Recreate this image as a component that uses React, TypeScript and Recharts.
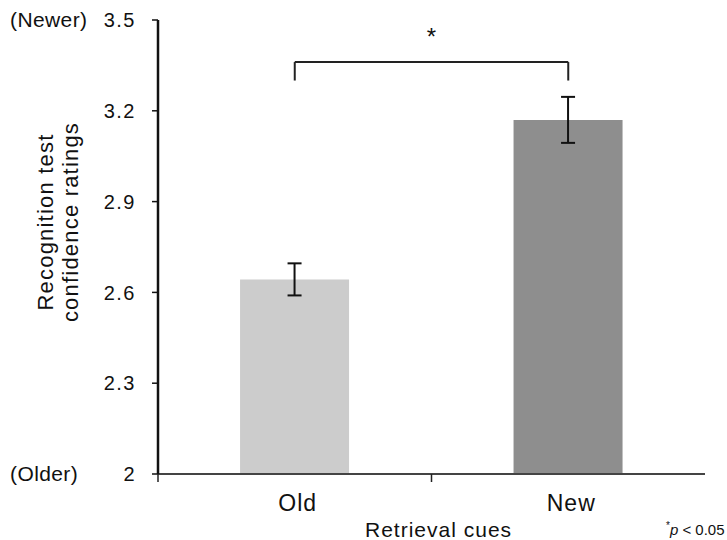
import { BarChart, Bar, Cell, ErrorBar, XAxis, YAxis, ReferenceLine } from "recharts";

const categories = ["Old", "New"];
const ratings = [2.643, 3.17];
const errors = [0.053, 0.076];
const barColors = ["#cccccc", "#8e8e8e"];
const yTicks = [2, 2.3, 2.6, 2.9, 3.2, 3.5];
const bracketTop = 3.361;
const bracketFoot = 3.3;

const data = categories.map((name, i) => ({ name, rating: ratings[i], err: errors[i] }));

const font = "'Liberation Sans', Arial, sans-serif";

// category label at the band centre, tick mark at the band's left edge
function XTick(props: any) {
  const { x, y, payload } = props;
  const half = payload.offset ?? 0;
  return (
    <g>
      <line x1={x - half} y1={y - 8} x2={x - half} y2={y} stroke="#222" strokeWidth={1.5} />
      <text x={x + 3} y={y + 29} textAnchor="middle" fontSize={23} letterSpacing={1} fill="#111" fontFamily={font}>
        {payload.value}
      </text>
    </g>
  );
}

export default function App() {
  return (
    <div style={{ position: "relative", width: 727, height: 540, background: "#fff", fontFamily: font }}>
      <style>{`body{margin:0}`}</style>
      <BarChart
        width={727}
        height={540}
        data={data}
        margin={{ top: 20, right: 22, bottom: 36, left: 98 }}
        barCategoryGap="30%"
      >
        <XAxis
          dataKey="name"
          interval={0}
          tick={<XTick />}
          tickLine={false}
          tickSize={8}
          tickMargin={0}
          axisLine={{ stroke: "#444", strokeWidth: 2 }}
          height={30}
        />
        <YAxis
          domain={[2, 3.5]}
          ticks={yTicks}
          interval={0}
          width={60}
          tickSize={6}
          tickMargin={16}
          tickFormatter={(v: number) => (v === 2 ? "2" : v.toFixed(1))}
          tick={{ fontSize: 20, fill: "#111", fontFamily: font, letterSpacing: 1.5 }}
          axisLine={{ stroke: "#111", strokeWidth: 2.5 }}
          tickLine={{ stroke: "#111", strokeWidth: 1.5 }}
        />
        <Bar dataKey="rating" isAnimationActive={false}>
          {data.map((d, i) => (
            <Cell key={d.name} fill={barColors[i]} />
          ))}
          <ErrorBar dataKey="err" width={7} stroke="#111" strokeWidth={2} />
        </Bar>
        <ReferenceLine
          segment={[{ x: categories[0], y: bracketTop }, { x: categories[1], y: bracketTop }]}
          stroke="#222"
          strokeWidth={2}
          label={{ value: "*", position: "top", offset: 17, fontSize: 24, fill: "#111" }}
        />
        <ReferenceLine
          segment={[{ x: categories[0], y: bracketTop }, { x: categories[0], y: bracketFoot }]}
          stroke="#222"
          strokeWidth={2}
        />
        <ReferenceLine
          segment={[{ x: categories[1], y: bracketTop }, { x: categories[1], y: bracketFoot }]}
          stroke="#222"
          strokeWidth={2}
        />
      </BarChart>
      <div style={{ position: "absolute", left: 10, top: 8, fontSize: 21, letterSpacing: 0.4, color: "#111" }}>(Newer)</div>
      <div style={{ position: "absolute", left: 10, top: 462, fontSize: 21, letterSpacing: 0.4, color: "#111" }}>(Older)</div>
      <div
        style={{
          position: "absolute",
          left: 58,
          top: 222,
          transform: "translate(-50%, -50%) rotate(-90deg)",
          fontSize: 22,
          letterSpacing: 1.2,
          lineHeight: "25px",
          textAlign: "center",
          whiteSpace: "nowrap",
          color: "#111",
        }}
      >
        Recognition test
        <br />
        confidence ratings
      </div>
      <div style={{ position: "absolute", left: 365, top: 518, fontSize: 21, letterSpacing: 1, color: "#111" }}>
        Retrieval cues
      </div>
      <div style={{ position: "absolute", left: 666, top: 520, fontSize: 15, color: "#111" }}>
        <sup style={{ fontSize: 10 }}>*</sup>
        <i>p</i> &lt; 0.05
      </div>
    </div>
  );
}
